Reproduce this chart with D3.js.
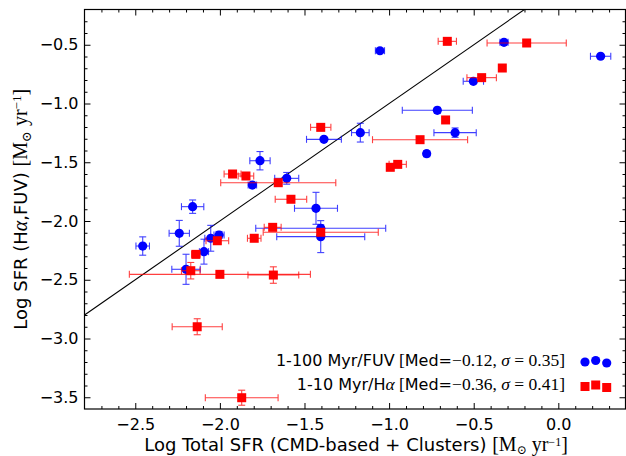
<!DOCTYPE html>
<html>
<head>
<meta charset="utf-8">
<script src="https://cdn.jsdelivr.net/npm/d3@7/dist/d3.min.js"></script>
<style>
  html, body { margin: 0; padding: 0; background: #fff; }
  svg { display: block; }
  text { font-family: "DejaVu Sans", sans-serif; }
  .math { font-family: "Liberation Serif", "DejaVu Serif", serif; }
</style>
</head>
<body>
<script>
// SFR from the 1-100 Myr CMD-based history vs. FUV-derived SFR
const fuvX    = [-1.054, -0.321, 0.250, -0.502, -0.715, -0.610, -1.170, -1.385, -0.778, -1.432, -1.404, -1.404, -1.763, -1.808, -1.605, -2.161, -2.456, -2.240, -2.200, -2.094, -2.054, -2.005];
const fuvY    = [-0.551, -0.479, -0.598, -0.811, -1.058, -1.248, -1.248, -1.305, -1.427, -1.892, -2.062, -2.133, -1.487, -1.694, -1.637, -1.878, -2.213, -2.105, -2.411, -2.261, -2.147, -2.119];
const fuvXerr = [0.027, 0.024, 0.060, 0.060, 0.207, 0.125, 0.052, 0.103, 0.018, 0.127, 0.384, 0.260, 0.060, 0.025, 0.071, 0.066, 0.040, 0.060, 0.084, 0.027, 0.035, 0.030];
const fuvYerr = [0.010, 0.010, 0.010, 0.010, 0.025, 0.040, 0.080, 0.010, 0.010, 0.136, 0.030, 0.136, 0.078, 0.010, 0.050, 0.057, 0.078, 0.110, 0.128, 0.106, 0.110, 0.030];

// SFR from the 1-10 Myr CMD-based history vs. Halpha-derived SFR
const haX    = [-0.656, -0.187, -0.331, -0.453, -0.666, -1.404, -0.817, -0.949, -0.993, -1.404, -1.655, -1.580, -1.684, -2.000, -2.134, -1.871, -2.172, -2.142, -2.015, -1.797, -1.688, -1.925, -1.846];
const haY    = [-0.471, -0.485, -0.698, -0.780, -1.140, -1.203, -1.308, -1.518, -1.543, -2.096, -1.674, -1.815, -2.460, -2.454, -2.900, -3.504, -2.423, -2.284, -2.168, -2.147, -2.054, -1.600, -1.617];
const haXerr = [0.054, 0.234, 0.000, 0.087, 0.000, 0.060, 0.281, 0.051, 0.020, 0.340, 0.340, 0.093, 0.150, 0.535, 0.148, 0.215, 0.055, 0.025, 0.067, 0.040, 0.050, 0.050, 0.046];
const haYerr = [0.010, 0.010, 0.000, 0.010, 0.000, 0.010, 0.010, 0.010, 0.010, 0.020, 0.010, 0.010, 0.070, 0.010, 0.068, 0.064, 0.070, 0.010, 0.010, 0.010, 0.010, 0.010, 0.010];

const xDomain = [-2.8, 0.4];
const yDomain = [-3.6, -0.2];
const xMajor = [-2.5, -2.0, -1.5, -1.0, -0.5, 0.0];
const yMajor = [-3.5, -3.0, -2.5, -2.0, -1.5, -1.0, -0.5];

const W = 626, H = 456;
const L = 84.5, R = 626, T = 9.5, B = 409;

const svg = d3.select("body").append("svg").attr("width", W).attr("height", H);

const x = d3.scaleLinear().domain(xDomain).range([L, R]);
const y = d3.scaleLinear().domain(yDomain).range([B, T]);

const fmt = d3.format(".1f");
const xMinor = d3.range(-27, 4).map(v => v / 10).filter(v => !xMajor.some(m => Math.abs(m - v) < 1e-9));
const yMinor = d3.range(-35, -2).map(v => v / 10).filter(v => !yMajor.some(m => Math.abs(m - v) < 1e-9));

svg.append("defs").append("clipPath").attr("id", "plotclip")
  .append("rect").attr("x", L).attr("y", T).attr("width", R - L).attr("height", B - T);

const plot = svg.append("g").attr("clip-path", "url(#plotclip)");

// one-to-one line
plot.append("line")
  .attr("x1", x(-2.8)).attr("y1", y(-2.8))
  .attr("x2", x(0.4)).attr("y2", y(0.4))
  .attr("stroke", "#000").attr("stroke-width", 1.1);

function errorbars(g, xs, ys, xe, ye, color) {
  const cap = 3.5;
  xs.forEach((xv, i) => {
    const cx = x(xv), cy = y(ys[i]);
    const eg = g.append("g").attr("stroke", color).attr("stroke-width", 1.1).attr("opacity", 0.75);
    if (xe[i] > 0) {
      const x0 = x(xv - xe[i]), x1 = x(xv + xe[i]);
      eg.append("line").attr("x1", x0).attr("x2", x1).attr("y1", cy).attr("y2", cy);
      eg.append("line").attr("x1", x0).attr("x2", x0).attr("y1", cy - cap).attr("y2", cy + cap);
      eg.append("line").attr("x1", x1).attr("x2", x1).attr("y1", cy - cap).attr("y2", cy + cap);
    }
    if (ye[i] > 0) {
      const y0 = y(ys[i] - ye[i]), y1 = y(ys[i] + ye[i]);
      eg.append("line").attr("x1", cx).attr("x2", cx).attr("y1", y0).attr("y2", y1);
      eg.append("line").attr("x1", cx - cap).attr("x2", cx + cap).attr("y1", y0).attr("y2", y0);
      eg.append("line").attr("x1", cx - cap).attr("x2", cx + cap).attr("y1", y1).attr("y2", y1);
    }
  });
}

// FUV series: blue circles
const gF = plot.append("g");
errorbars(gF, fuvX, fuvY, fuvXerr, fuvYerr, "#0000ff");
gF.selectAll("circle").data(fuvX).enter().append("circle")
  .attr("cx", (d) => x(d)).attr("cy", (d, i) => y(fuvY[i]))
  .attr("r", 4.6).attr("fill", "#0000ff");

// Halpha series: red squares
const gH = plot.append("g");
errorbars(gH, haX, haY, haXerr, haYerr, "#ff0000");
const sq = 9;
gH.selectAll("rect.m").data(haX).enter().append("rect").attr("class", "m")
  .attr("x", (d) => x(d) - sq / 2).attr("y", (d, i) => y(haY[i]) - sq / 2)
  .attr("width", sq).attr("height", sq).attr("fill", "#ff0000");

// axes: ticks pointing inward on all four sides
function styleAxis(g) {
  g.selectAll(".domain").remove();
  g.selectAll(".tick line").attr("stroke", "#000").attr("stroke-width", 1);
  g.selectAll(".tick text").attr("fill", "#000").style("font-size", "16px").style("font-family", "'DejaVu Sans', sans-serif");
}
const axB = svg.append("g").attr("transform", `translate(0,${B})`)
  .call(d3.axisBottom(x).tickValues(xMajor).tickFormat(fmt).tickSizeInner(-6).tickSizeOuter(0).tickPadding(10));
styleAxis(axB);
const axBm = svg.append("g").attr("transform", `translate(0,${B})`)
  .call(d3.axisBottom(x).tickValues(xMinor).tickFormat("").tickSizeInner(-3).tickSizeOuter(0));
styleAxis(axBm);
const axT = svg.append("g").attr("transform", `translate(0,${T})`)
  .call(d3.axisTop(x).tickValues(xMajor).tickFormat("").tickSizeInner(-6).tickSizeOuter(0));
styleAxis(axT);
const axTm = svg.append("g").attr("transform", `translate(0,${T})`)
  .call(d3.axisTop(x).tickValues(xMinor).tickFormat("").tickSizeInner(-3).tickSizeOuter(0));
styleAxis(axTm);

const axL = svg.append("g").attr("transform", `translate(${L},0)`)
  .call(d3.axisLeft(y).tickValues(yMajor).tickFormat(fmt).tickSizeInner(-6).tickSizeOuter(0).tickPadding(6));
styleAxis(axL);
const axLm = svg.append("g").attr("transform", `translate(${L},0)`)
  .call(d3.axisLeft(y).tickValues(yMinor).tickFormat("").tickSizeInner(-3).tickSizeOuter(0));
styleAxis(axLm);
const axR = svg.append("g").attr("transform", `translate(${R - 0.5},0)`)
  .call(d3.axisRight(y).tickValues(yMajor).tickFormat("").tickSizeInner(-6).tickSizeOuter(0));
styleAxis(axR);
const axRm = svg.append("g").attr("transform", `translate(${R - 0.5},0)`)
  .call(d3.axisRight(y).tickValues(yMinor).tickFormat("").tickSizeInner(-3).tickSizeOuter(0));
styleAxis(axRm);

// frame
svg.append("rect").attr("x", L).attr("y", T).attr("width", R - 0.5 - L).attr("height", B - T)
  .attr("fill", "none").attr("stroke", "#000").attr("stroke-width", 1.2);

// axis titles with the solar-mass unit set in a serif face
function unitSpans(t, big, small, sup) {
  t.append("tspan").attr("class", "math").style("font-size", big).text("[M");
  t.append("tspan").attr("class", "math").attr("dy", 3.5).style("font-size", small).text("⊙");
  t.append("tspan").attr("class", "math").attr("dy", -3.5).style("font-size", big).text(" yr");
  t.append("tspan").attr("class", "math").attr("dy", -sup).style("font-size", small).text("−1");
  t.append("tspan").attr("class", "math").attr("dy", sup).style("font-size", big).text("]");
}

const xt = svg.append("text").attr("x", 356).attr("y", 450.5)
  .attr("text-anchor", "middle").style("font-size", "18px");
xt.append("tspan").text("Log Total SFR (CMD-based + Clusters) ");
unitSpans(xt, "20px", "12px", 5);

const yt = svg.append("text").attr("transform", `translate(27,${(T + B) / 2}) rotate(-90)`)
  .attr("text-anchor", "middle").style("font-size", "18px");
yt.append("tspan").text("Log SFR (H");
yt.append("tspan").attr("class", "math").style("font-style", "italic").style("font-size", "20px").text("α");
yt.append("tspan").text(",FUV) ");
unitSpans(yt, "20px", "13px", 6);

// legend
const legend = svg.append("g");
function legendLabel(yb, prefix, alpha, med, sig) {
  const t = legend.append("text").attr("x", 565).attr("y", yb).attr("text-anchor", "end").style("font-size", "16px");
  t.append("tspan").text(prefix);
  if (alpha) t.append("tspan").attr("class", "math").style("font-style", "italic").style("font-size", "17.5px").text("α");
  t.append("tspan").attr("class", "math").style("font-size", "17.5px").text(" [");
  t.append("tspan").text("Med=");
  t.append("tspan").attr("class", "math").style("font-size", "17.5px").text(med + ", ");
  t.append("tspan").attr("class", "math").style("font-style", "italic").style("font-size", "17.5px").text("σ");
  t.append("tspan").attr("class", "math").style("font-size", "17.5px").text(" = " + sig + "]");
}
legendLabel(366, "1-100 Myr/FUV", false, "−0.12", "0.35");
legendLabel(390, "1-10 Myr/H", true, "−0.36", "0.41");

const legX = [585, 595.7, 606.7];
const legDy = [1.5, 0, 2.5];
legend.selectAll("circle").data(legX).enter().append("circle")
  .attr("cx", d => d).attr("cy", (d, i) => 360.5 + legDy[i]).attr("r", 4.6).attr("fill", "#0000ff");
legend.selectAll("rect").data(legX).enter().append("rect")
  .attr("x", d => d - sq / 2).attr("y", (d, i) => 385 + legDy[i] - sq / 2)
  .attr("width", sq).attr("height", sq).attr("fill", "#ff0000");
</script>
</body>
</html>
